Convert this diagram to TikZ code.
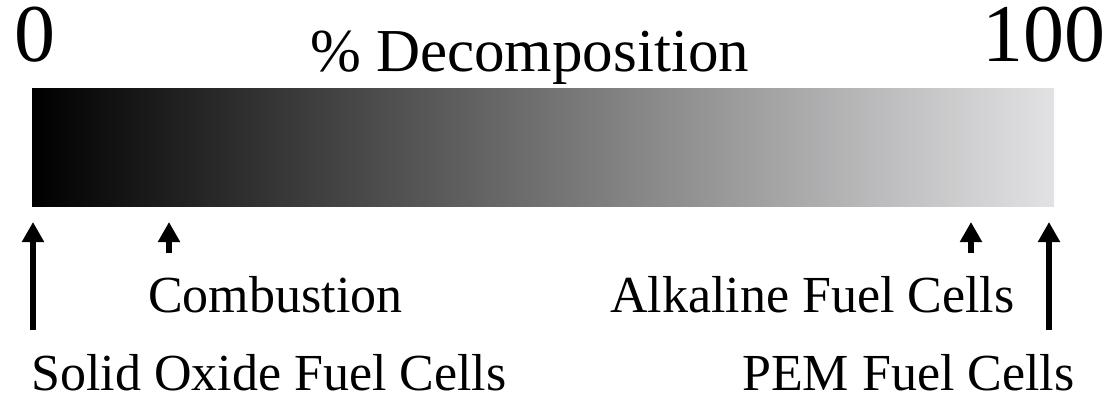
\documentclass[tikz,border=0pt]{standalone}
\usepackage{fontspec}
\setmainfont{Liberation Serif}
\usetikzlibrary{arrows.meta}
\definecolor{barmid}{RGB}{112,107,107}
\definecolor{barend}{RGB}{226,226,228}
\begin{document}
\begin{tikzpicture}[x=1pt,y=-1pt,
  endnum/.style={font=\fontsize{82}{92}\selectfont, inner sep=0pt, text height=57pt, text depth=0pt},
  heading/.style={font=\fontsize{61}{70}\selectfont, inner sep=0pt},
  lbl/.style={font=\fontsize{52}{60}\selectfont, inner sep=0pt},
  pointer/.style={line width=6pt, -{Triangle[width=21pt,length=20pt]}}]
\useasboundingbox[fill=white] (0,0) rectangle (1109,401);

% scale end values and title
\node[endnum, anchor=base west] (zero) at (14,62) {0};
\node[endnum, anchor=base east] (hundred) at (1106,62) {100};
\node[heading, anchor=base west] (title) at (310,72) {\% Decomposition};

% gradient bar
\node[minimum width=1022pt, minimum height=117pt, inner sep=0pt, draw=none,
      left color=black, middle color=barmid, right color=barend] (bar) at (543,147.5) {};

% labels below the bar
\node[lbl, anchor=base west] (comb) at (148,312) {Combustion};
\node[lbl, anchor=base west] (afc) at (610,312) {Alkaline Fuel Cells};
\node[lbl, anchor=base west] (sofc) at (31,390) {Solid Oxide Fuel Cells};
\node[lbl, anchor=base west] (pem) at (742,390) {PEM Fuel Cells};

% pointer arrows
\coordinate (sofcTail) at (33,330);   \coordinate (sofcTip) at (33,222);
\coordinate (combTail) at (169,253);  \coordinate (combTip) at (169,222);
\coordinate (afcTail) at (971,253);   \coordinate (afcTip) at (971,222);
\coordinate (pemTail) at (1049,330);  \coordinate (pemTip) at (1049,222);
\draw[pointer] (sofcTail) -- (sofcTip);
\draw[pointer] (combTail) -- (combTip);
\draw[pointer] (afcTail) -- (afcTip);
\draw[pointer] (pemTail) -- (pemTip);
\end{tikzpicture}
\end{document}
